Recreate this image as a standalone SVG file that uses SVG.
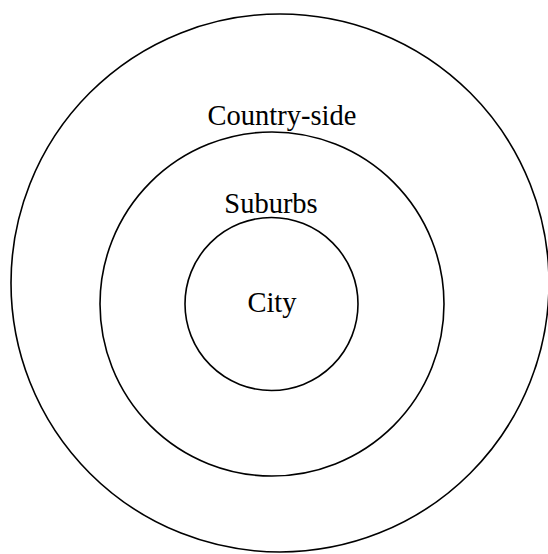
<svg xmlns="http://www.w3.org/2000/svg" width="548" height="554" viewBox="0 0 548 554">
<style>
.ring{fill:none;stroke:#000;stroke-width:1.6}
.lbl{font-family:"Liberation Serif","Times New Roman",serif;font-size:28.5px;fill:#000;text-anchor:middle}
</style>
<rect width="548" height="554" fill="#fff"/>
<g id="countryside">
<circle class="ring" cx="280" cy="283" r="269"/>
<text class="lbl" x="282" y="125">Country-side</text>
</g>
<g id="suburbs">
<circle class="ring" cx="272" cy="304" r="172"/>
<text class="lbl" x="271" y="213">Suburbs</text>
</g>
<g id="city">
<circle class="ring" cx="271.5" cy="304" r="86.5"/>
<text class="lbl" x="272" y="312">City</text>
</g>
<g id="connectors"/>
</svg>
